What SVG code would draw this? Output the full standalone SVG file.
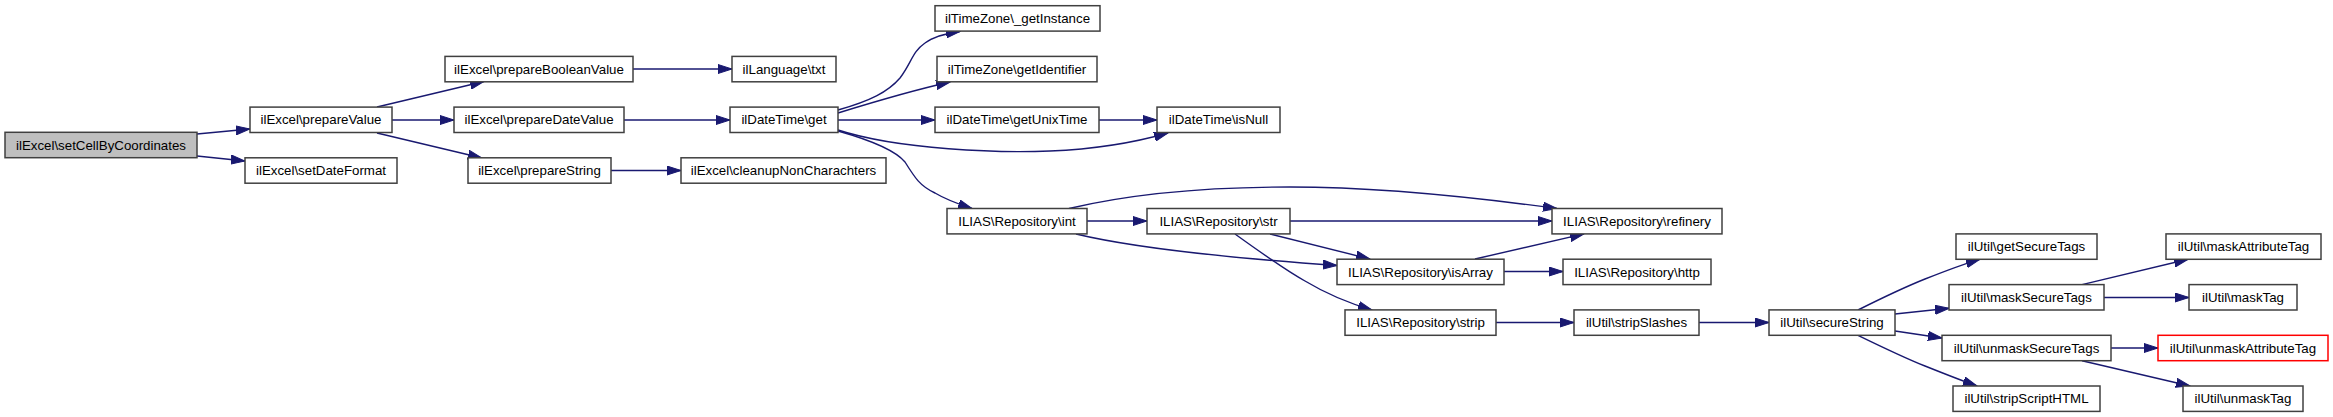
<svg xmlns="http://www.w3.org/2000/svg" width="2333" height="417" viewBox="0 0 2333 417">
<style>
.n rect{fill:#fff;stroke:#404040;stroke-width:1.5}
.n text{font-family:"Liberation Sans",Arial,sans-serif;font-size:13.3px;fill:#000;text-anchor:middle}
#n1 rect{fill:#bfbfbf}
#n28 rect{stroke:#ff0000}
.e path{fill:none;stroke:#191970;stroke-width:1.4;marker-end:url(#arr)}
</style>
<defs>
<marker id="arr" markerUnits="userSpaceOnUse" markerWidth="15" markerHeight="10" refX="14" refY="5" orient="auto">
<path d="M0,0.5 L14,5 L0,9.5 z" fill="#191970" stroke="#191970" stroke-width="1"/>
</marker>
</defs>
<rect width="2333" height="417" fill="#fff"/>
<g id="edges" class="e">
<path d="M197,134 L250,129"/>
<path d="M197,156 L245,161"/>
<path d="M377,107 L484,81.5"/>
<path d="M392,120 L454,120"/>
<path d="M377,133 L482,158"/>
<path d="M633,69 L732,69"/>
<path d="M624,120 L730,120"/>
<path d="M611,170.5 L681,170.5"/>
<path d="M838,110 C870,101 888,92 900,78 C912,62 912,52 925,43 C933,37 942,34 960,31.5"/>
<path d="M838,113 C880,100 910,91 950,82"/>
<path d="M838,120 L935,120"/>
<path d="M838,130 C900,150 1000,153 1050,151 C1100,149 1140,141 1168,133"/>
<path d="M838,131 C870,140 895,150 905,162 C915,178 920,186 935,193 C945,199 955,203 972,208.5"/>
<path d="M1099,120 L1157,120"/>
<path d="M1087,221 L1147,221"/>
<path d="M1069,208.5 C1130,194 1200,187 1290,187 C1380,187 1480,198 1557,208.5"/>
<path d="M1076,234 C1130,247 1230,258 1337,265.5"/>
<path d="M1290,221 L1552,221"/>
<path d="M1270,234 L1370,259"/>
<path d="M1235,234 C1260,252 1285,270 1305,281 C1325,293 1345,302 1372,310"/>
<path d="M1475,259 L1584,233.9"/>
<path d="M1504,271.5 L1563,271.5"/>
<path d="M1496,322.5 L1574,322.5"/>
<path d="M1699,322.5 L1769,322.5"/>
<path d="M1858,310 C1880,299 1905,287 1925,279 C1945,271 1960,265 1980,259.3"/>
<path d="M1895,314 L1949,308.3"/>
<path d="M1895,331 L1942,338"/>
<path d="M1858,335.3 C1880,346 1905,358 1925,366 C1945,374 1960,380 1977,386"/>
<path d="M2082,284.6 L2188,259.3"/>
<path d="M2104,297.5 L2189,297.5"/>
<path d="M2111,348 L2158,348"/>
<path d="M2082,360.7 L2190,386"/>
</g>
<g id="n1" class="n"><rect x="5" y="132.3" width="192" height="25.4"/><text x="101" y="149.6">ilExcel\setCellByCoordinates</text></g>
<g id="n2" class="n"><rect x="250" y="107.1" width="142" height="25.4"/><text x="321" y="124.4">ilExcel\prepareValue</text></g>
<g id="n3" class="n"><rect x="245" y="157.8" width="152" height="25.4"/><text x="321" y="175.1">ilExcel\setDateFormat</text></g>
<g id="n4" class="n"><rect x="445" y="56.4" width="188" height="25.4"/><text x="539" y="73.7">ilExcel\prepareBooleanValue</text></g>
<g id="n5" class="n"><rect x="454" y="107.1" width="170" height="25.4"/><text x="539" y="124.4">ilExcel\prepareDateValue</text></g>
<g id="n6" class="n"><rect x="468" y="157.8" width="143" height="25.4"/><text x="539.5" y="175.1">ilExcel\prepareString</text></g>
<g id="n7" class="n"><rect x="732" y="56.4" width="104" height="25.4"/><text x="784" y="73.7">ilLanguage\txt</text></g>
<g id="n8" class="n"><rect x="730" y="107.1" width="108" height="25.4"/><text x="784" y="124.4">ilDateTime\get</text></g>
<g id="n9" class="n"><rect x="681" y="157.8" width="205" height="25.4"/><text x="783.5" y="175.1">ilExcel\cleanupNonCharachters</text></g>
<g id="n10" class="n"><rect x="935" y="5.7" width="165" height="25.4"/><text x="1017.5" y="23">ilTimeZone\_getInstance</text></g>
<g id="n11" class="n"><rect x="937" y="56.4" width="160" height="25.4"/><text x="1017" y="73.7">ilTimeZone\getIdentifier</text></g>
<g id="n12" class="n"><rect x="935" y="107.1" width="164" height="25.4"/><text x="1017" y="124.4">ilDateTime\getUnixTime</text></g>
<g id="n13" class="n"><rect x="1157" y="107.1" width="123" height="25.4"/><text x="1218.5" y="124.4">ilDateTime\isNull</text></g>
<g id="n14" class="n"><rect x="947" y="208.5" width="140" height="25.4"/><text x="1017" y="225.8">ILIAS\Repository\int</text></g>
<g id="n15" class="n"><rect x="1147" y="208.5" width="143" height="25.4"/><text x="1218.5" y="225.8">ILIAS\Repository\str</text></g>
<g id="n16" class="n"><rect x="1552" y="208.5" width="170" height="25.4"/><text x="1637" y="225.8">ILIAS\Repository\refinery</text></g>
<g id="n17" class="n"><rect x="1337" y="259.2" width="167" height="25.4"/><text x="1420.5" y="276.5">ILIAS\Repository\isArray</text></g>
<g id="n18" class="n"><rect x="1563" y="259.2" width="148" height="25.4"/><text x="1637" y="276.5">ILIAS\Repository\http</text></g>
<g id="n19" class="n"><rect x="1345" y="309.9" width="151" height="25.4"/><text x="1420.5" y="327.2">ILIAS\Repository\strip</text></g>
<g id="n20" class="n"><rect x="1574" y="309.9" width="125" height="25.4"/><text x="1636.5" y="327.2">ilUtil\stripSlashes</text></g>
<g id="n21" class="n"><rect x="1769" y="309.9" width="126" height="25.4"/><text x="1832" y="327.2">ilUtil\secureString</text></g>
<g id="n22" class="n"><rect x="1956" y="233.9" width="141" height="25.4"/><text x="2026.5" y="251.2">ilUtil\getSecureTags</text></g>
<g id="n23" class="n"><rect x="1949" y="284.6" width="155" height="25.4"/><text x="2026.5" y="301.9">ilUtil\maskSecureTags</text></g>
<g id="n24" class="n"><rect x="1942" y="335.3" width="169" height="25.4"/><text x="2026.5" y="352.6">ilUtil\unmaskSecureTags</text></g>
<g id="n25" class="n"><rect x="1953" y="386" width="147" height="25.4"/><text x="2026.5" y="403.3">ilUtil\stripScriptHTML</text></g>
<g id="n26" class="n"><rect x="2166" y="233.9" width="155" height="25.4"/><text x="2243.5" y="251.2">ilUtil\maskAttributeTag</text></g>
<g id="n27" class="n"><rect x="2189" y="284.6" width="108" height="25.4"/><text x="2243" y="301.9">ilUtil\maskTag</text></g>
<g id="n28" class="n"><rect x="2158" y="335.3" width="170" height="25.4"/><text x="2243" y="352.6">ilUtil\unmaskAttributeTag</text></g>
<g id="n29" class="n"><rect x="2183" y="386" width="120" height="25.4"/><text x="2243" y="403.3">ilUtil\unmaskTag</text></g>
</svg>
